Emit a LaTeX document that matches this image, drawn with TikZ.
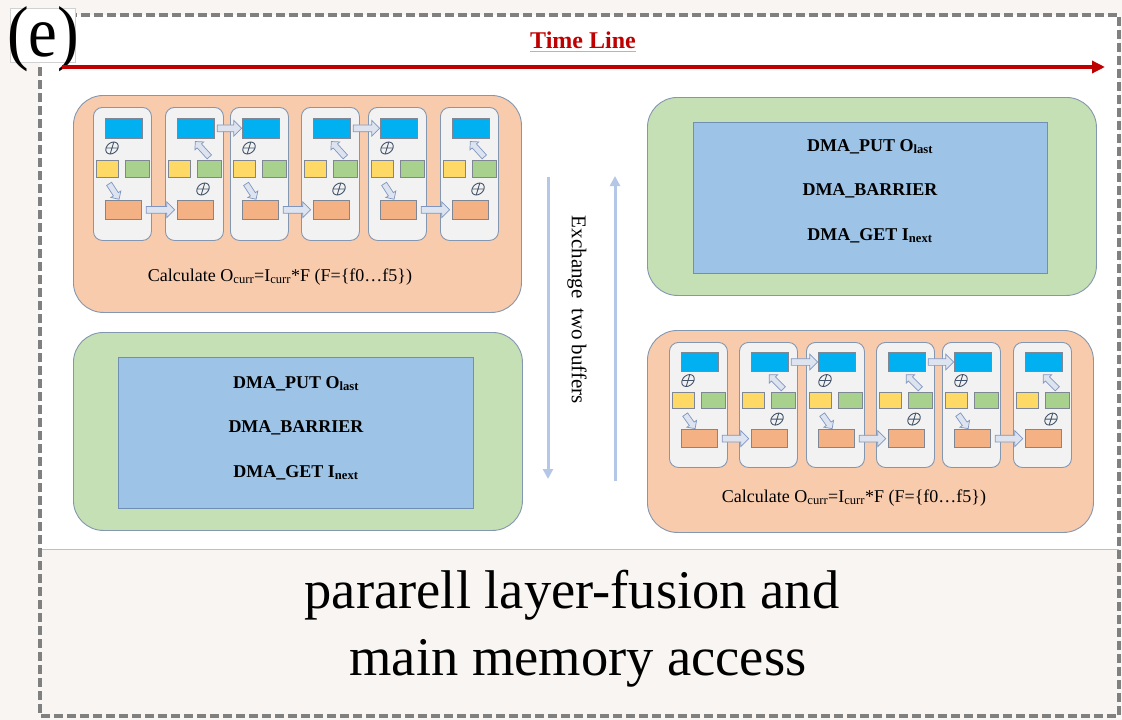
\documentclass[tikz,border=0pt]{standalone}
\usepackage{fontspec}
\setmainfont{Liberation Serif}
\usetikzlibrary{arrows.meta,shapes.arrows,calc}

\definecolor{pagebg}{HTML}{F8F5F2}
\definecolor{dashgray}{HTML}{808080}
\definecolor{sepgray}{HTML}{BFBFBF}
\definecolor{peach}{HTML}{F8CBAD}
\definecolor{mint}{HTML}{C5E0B4}
\definecolor{skyfill}{HTML}{9DC3E6}
\definecolor{dmaline}{HTML}{6F8FB5}
\definecolor{panelline}{HTML}{8497B0}
\definecolor{cellfill}{HTML}{F2F2F2}
\definecolor{tileline}{HTML}{7F8794}
\definecolor{cyanbox}{HTML}{00B0F0}
\definecolor{yelbox}{HTML}{FFD966}
\definecolor{grnbox}{HTML}{A9D18E}
\definecolor{orgbox}{HTML}{F4B183}
\definecolor{arrfill}{HTML}{DDE4F0}
\definecolor{arrline}{HTML}{7F96C0}
\definecolor{xchg}{HTML}{B4C7E7}
\definecolor{timered}{HTML}{C00000}
\definecolor{ulblue}{HTML}{9DB9E3}
\definecolor{symbcol}{HTML}{44546A}

\tikzset{
  panel/.style={draw=panelline, line width=0.9pt, rounded corners=30pt, inner sep=0pt, anchor=north west},
  dmabox/.style={draw=dmaline, fill=skyfill, line width=0.8pt, inner sep=0pt, anchor=north west},
  cellbox/.style={draw=panelline, fill=cellfill, line width=0.9pt, rounded corners=9pt, inner sep=0pt, anchor=north west},
  tile/.style={draw=tileline, fill=#1, line width=0.6pt, inner sep=0pt, anchor=north west},
  blockarr/.style={single arrow, draw=arrline, fill=arrfill, line width=0.7pt, inner xsep=0pt, inner ysep=3pt,
    minimum width=15pt, single arrow head extend=4.5pt, single arrow head indent=0pt},
  blockarrsmall/.style={blockarr, inner ysep=2.6pt, minimum width=11pt, single arrow head extend=3pt},
  xmarkline/.style={draw=symbcol, line width=0.9pt},
  dmatext/.style={font=\bfseries\fontsize{18}{20}\selectfont, anchor=base, inner sep=0pt},
  calctext/.style={font=\fontsize{18}{20}\selectfont, anchor=base, inner sep=0pt},
  bigtext/.style={font=\fontsize{54.5}{60}\selectfont, anchor=base, inner sep=0pt},
  border/.style={draw=dashgray, line width=4pt, dash pattern=on 9pt off 4pt},
  timearrow/.style={draw=timered, line width=3.5pt, -{Triangle[width=12pt,length=13pt]}},
  xchgarrow/.style={draw=xchg, line width=3pt, -{Triangle[width=10pt,length=10pt]}},
}

% hollow block arrow between two points
\newcommand\blockarrow[3][blockarr]{%
  \path let \p1=(#2), \p2=(#3),
    \n1={veclen(\x2-\x1,\y2-\y1)}, \n2={atan2(\y2-\y1,\x2-\x1)} in
    node[#1, minimum height=\n1, rotate=\n2] at ($(\p1)!.5!(\p2)$) {};}

% slanted circled cross
\newcommand\xmark[2]{%
  \begin{scope}[shift={({#1},{#2})}, xslant=0.3]
    \draw[xmarkline] (0pt,0pt) circle (6pt);
    \draw[xmarkline] (-6pt,0pt) -- (6pt,0pt) (0pt,-6pt) -- (0pt,6pt);
  \end{scope}}

% one processing cell: #1 name, #2 left, #3 top, #4 vertical scale
\newcommand\cellbase[4]{%
  \node[cellbox, minimum width=58pt, minimum height={133pt*#4}] (#1) at ({#2},{#3}) {};
  \node[tile=cyanbox, minimum width=37pt, minimum height={20pt*#4}] (#1b) at ({#2+12},{#3+11*#4}) {};
  \node[tile=yelbox, minimum width=22pt, minimum height={17pt*#4}] (#1y) at ({#2+3},{#3+53*#4}) {};
  \node[tile=grnbox, minimum width=24pt, minimum height={17pt*#4}] (#1g) at ({#2+32},{#3+53*#4}) {};
  \node[tile=orgbox, minimum width=36pt, minimum height={19pt*#4}] (#1o) at ({#2+12},{#3+93*#4}) {};}

% cell whose partial sum goes down to the output tile
\newcommand\cellA[4]{%
  \cellbase{#1}{#2}{#3}{#4}
  \xmark{#2+19}{#3+41*#4}
  \blockarrow[blockarrsmall]{$(#1y.south)+(1,5)$}{$(#1o.north)+(-5,-2)$}}

% cell whose partial sum goes up to the input tile
\newcommand\cellB[4]{%
  \cellbase{#1}{#2}{#3}{#4}
  \xmark{#2+38}{#3+82*#4}
  \blockarrow[blockarrsmall]{$(#1g.north)+(1,-2)$}{$(#1b.south)+(0.5,4)$}}

% hand-over arrows along a row of six cells
\newcommand\rowlinks[1]{%
  \blockarrow{$(#11o.east)+(3,0)$}{$(#12o.west)+(-4,0)$}
  \blockarrow{$(#12b.east)+(1,0)$}{$(#13b.west)+(-2,0)$}
  \blockarrow{$(#13o.east)+(3,0)$}{$(#14o.west)+(-4,0)$}
  \blockarrow{$(#14b.east)+(1,0)$}{$(#15b.west)+(-2,0)$}
  \blockarrow{$(#15o.east)+(3,0)$}{$(#16o.west)+(-4,0)$}}

\begin{document}
\begin{tikzpicture}[x=1pt,y=-1pt]
\useasboundingbox (0,0) rectangle (1122,720);
\fill[pagebg] (0,0) rectangle (1122,720);
\fill[white] (40,15) rectangle (1119,549);
\draw[sepgray, line width=1pt] (40,549) -- (1119,549);
\draw[border] (40,15) rectangle (1119,716);

% panel tag
\node[draw=black!18, fill=white, minimum width=65pt, minimum height=54pt, anchor=north west, inner sep=0pt] (tagbox) at (10,8) {};
\node[font=\fontsize{72}{72}\selectfont, anchor=base, inner sep=0pt, xscale=0.9] (tag) at (43,56) {(e)};

% time line
\coordinate (tl0) at (62,67);
\coordinate (tl1) at (1105,67);
\draw[timearrow] (tl0) -- (tl1);
\node[font=\bfseries\fontsize{24}{26}\selectfont, text=timered, anchor=base, inner sep=0pt] (tltxt) at (583,48) {Time Line};
\draw[ulblue, line width=1.5pt] ($(tltxt.base west)+(0,3.5)$) -- ($(tltxt.base east)+(0,3.5)$);

% top-left: computation
\node[panel, fill=peach, minimum width=448pt, minimum height=217pt] (calcL) at (73,95) {};
\cellA{ta1}{93}{107}{1}
\cellB{ta2}{165}{107}{1}
\cellA{ta3}{230}{107}{1}
\cellB{ta4}{301}{107}{1}
\cellA{ta5}{368}{107}{1}
\cellB{ta6}{440}{107}{1}
\rowlinks{ta}
\node[calctext] (calcLtxt) at (280,281) {Calculate O\textsubscript{curr}=I\textsubscript{curr}*F (F=\{f0…f5\})};

% bottom-left: memory access
\node[panel, fill=mint, minimum width=449pt, minimum height=198pt] (dmaLpanel) at (73,332) {};
\node[dmabox, minimum width=355pt, minimum height=151pt] (dmaL) at (118,357) {};
\node[dmatext] (dmaLput) at (296,388) {DMA\_PUT O\textsubscript{last}};
\node[dmatext] (dmaLbar) at (296,432) {DMA\_BARRIER};
\node[dmatext] (dmaLget) at (296,477) {DMA\_GET I\textsubscript{next}};

% top-right: memory access
\node[panel, fill=mint, minimum width=449pt, minimum height=198pt] (dmaRpanel) at (647,97) {};
\node[dmabox, minimum width=354pt, minimum height=151pt] (dmaR) at (693,122) {};
\node[dmatext] (dmaRput) at (870,151) {DMA\_PUT O\textsubscript{last}};
\node[dmatext] (dmaRbar) at (870,195) {DMA\_BARRIER};
\node[dmatext] (dmaRget) at (870,240) {DMA\_GET I\textsubscript{next}};

% bottom-right: computation
\node[panel, fill=peach, minimum width=446pt, minimum height=202pt] (calcR) at (647,330) {};
\cellA{bb1}{669}{342}{0.94}
\cellB{bb2}{739}{342}{0.94}
\cellA{bb3}{806}{342}{0.94}
\cellB{bb4}{876}{342}{0.94}
\cellA{bb5}{942}{342}{0.94}
\cellB{bb6}{1013}{342}{0.94}
\rowlinks{bb}
\node[calctext] (calcRtxt) at (854,502) {Calculate O\textsubscript{curr}=I\textsubscript{curr}*F (F=\{f0…f5\})};

% buffer exchange
\coordinate (xdTop) at (548,177);
\coordinate (xdBot) at (548,479);
\coordinate (xuBot) at (615,481);
\coordinate (xuTop) at (615,176);
\draw[xchgarrow] (xdTop) -- (xdBot);
\draw[xchgarrow] (xuBot) -- (xuTop);
\node[font=\fontsize{21}{24}\selectfont, rotate=-90, inner sep=0pt] (xchgtxt) at (577,310) {Exchange\hspace{0.45em}two buffers};

% caption
\node[bigtext] (cap1) at (572,608) {pararell layer-fusion and};
\node[bigtext] (cap2) at (578,675) {main memory access};
\end{tikzpicture}
\end{document}
